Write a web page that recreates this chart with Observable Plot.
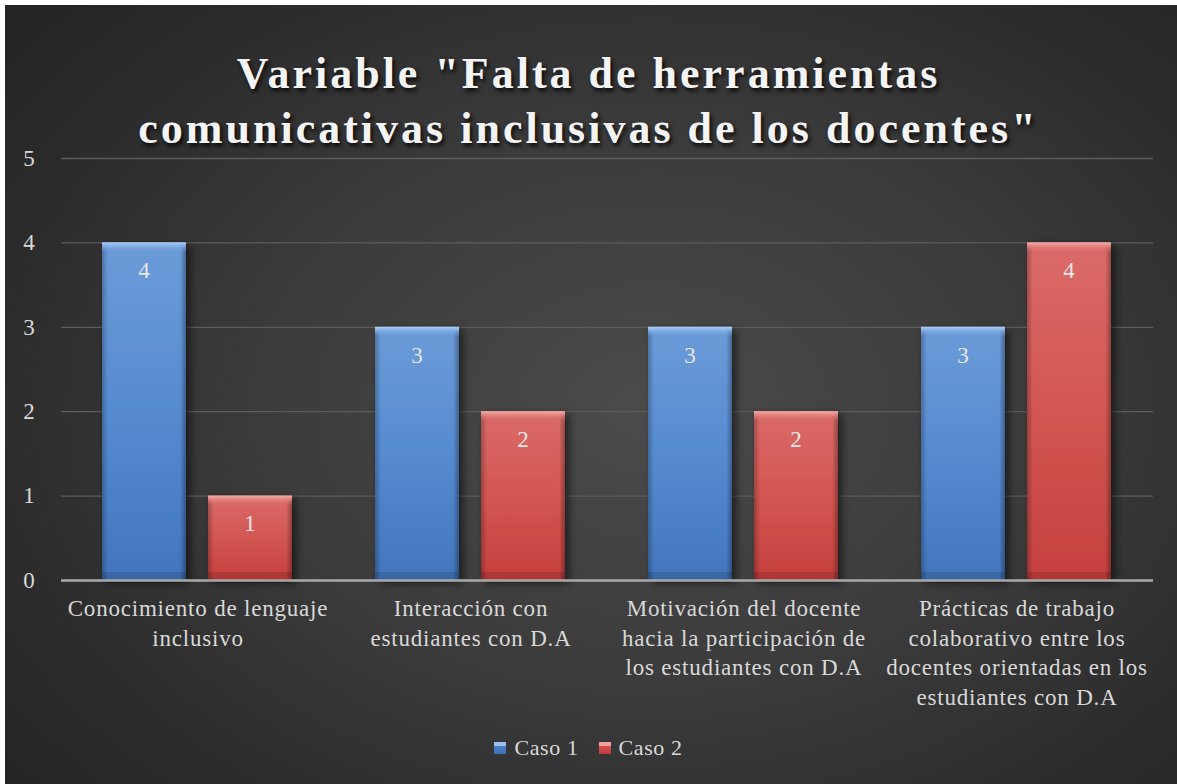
<!DOCTYPE html>
<html><head><meta charset="utf-8">
<script src="https://cdn.jsdelivr.net/npm/d3@7"></script>
<script src="https://cdn.jsdelivr.net/npm/@observablehq/plot@0.6"></script>
<style>
html,body{margin:0;padding:0;background:#fff;width:1177px;height:784px;overflow:hidden;position:relative;}
#bg{position:absolute;left:5px;top:5px;width:1172px;height:779px;
  background:radial-gradient(ellipse 70% 75% at 55% 52%, #4b4b4b 0%, #3c3c3c 45%, #2a2a2a 85%, #252525 100%);}
#title{position:absolute;left:0;top:46px;width:1177px;text-align:center;font-family:"Liberation Serif",serif;font-weight:bold;
  font-size:44px;line-height:55px;letter-spacing:3px;color:#f4f4f4;text-shadow:2px 3px 4px rgba(0,0,0,0.85);}
#chart{position:absolute;left:0;top:148px;}
#legend{position:absolute;left:0;top:735px;width:1177px;display:flex;justify-content:center;align-items:center;
  font-family:"Liberation Serif",serif;font-size:22px;letter-spacing:0.6px;color:#d9d9d9;}
.item{display:flex;align-items:center;margin:0 10px;}
.sw{width:12px;height:12px;margin-right:8px;box-sizing:border-box;}
</style></head>
<body>
<div id="bg"></div>
<div id="title">Variable "Falta de herramientas<br>comunicativas inclusivas de los docentes"</div>
<div id="chart"></div>
<div id="legend"></div>
<script>
const categories = [
  "Conocimiento de lenguaje inclusivo",
  "Interacción con estudiantes con D.A",
  "Motivación del docente hacia la participación de los estudiantes con D.A",
  "Prácticas de trabajo colaborativo entre los docentes orientadas en los estudiantes con D.A"
];
const categoryLabels = [
  "Conocimiento de lenguaje\ninclusivo",
  "Interacción con\nestudiantes con D.A",
  "Motivación del docente\nhacia la participación de\nlos estudiantes con D.A",
  "Prácticas de trabajo\ncolaborativo entre los\ndocentes orientadas en los\nestudiantes con D.A"
];
const series = ["Caso 1", "Caso 2"];
const caso1 = [4, 3, 3, 3];
const caso2 = [1, 2, 2, 4];
const yTicks = [0, 1, 2, 3, 4, 5];
const seriesFill = {"Caso 1": "url(#gBlue)", "Caso 2": "url(#gRed)"};
const seriesTop = {"Caso 1": "url(#gBlueTop)", "Caso 2": "url(#gRedTop)"};

const data = [];
categories.forEach((c, i) => {
  data.push({cat: c, serie: "Caso 1", value: caso1[i]});
  data.push({cat: c, serie: "Caso 2", value: caso2[i]});
});
const d1 = data.filter(d => d.serie === "Caso 1");
const d2 = data.filter(d => d.serie === "Caso 2");

const FONT = "Liberation Serif";
const plot = Plot.plot({
  width: 1177, height: 562,
  marginLeft: 60, marginRight: 24, marginTop: 10, marginBottom: 130,
  style: {background: "transparent", fontFamily: FONT, fontSize: "23px", letterSpacing: "0.8px", color: "#d9d9d9", overflow: "visible"},
  fx: {domain: categories, padding: 0, label: null},
  x: {domain: series, paddingInner: 0.2075, paddingOuter: 0.39, axis: null},
  y: {domain: [0, 5], label: null},
  marks: [
    Plot.gridY(yTicks, {stroke: "#5c5c5c", strokeOpacity: 1, strokeWidth: 1.3}),
    Plot.axisY(yTicks, {tickSize: 0, tickPadding: 26, label: null, fontSize: 23, fill: "#d9d9d9", tickFormat: d => String(d)}),
    Plot.axisFx({anchor: "bottom", tickSize: 0, tickPadding: 15, label: null, fontSize: 23, lineHeight: 1.28, fill: "#d9d9d9",
      tickFormat: c => categoryLabels[categories.indexOf(c)]}),
    Plot.barY(d1, {fx: "cat", x: "serie", y1: 0, y2: "value", fill: seriesFill["Caso 1"], ariaDescription: "mainbars"}),
    Plot.barY(d2, {fx: "cat", x: "serie", y1: 0, y2: "value", fill: seriesFill["Caso 2"], ariaDescription: "mainbars"}),
    Plot.barY(data, {fx: "cat", x: "serie", y1: 0, y2: "value", fill: "url(#gEdge)"}),
    Plot.barY(d1, {fx: "cat", x: "serie", y1: "value", y2: "value", insetBottom: -10, fill: seriesTop["Caso 1"]}),
    Plot.barY(d2, {fx: "cat", x: "serie", y1: "value", y2: "value", insetBottom: -10, fill: seriesTop["Caso 2"]}),
    Plot.barY(data, {fx: "cat", x: "serie", y1: 0, y2: 0, insetTop: -8, fill: "rgba(0,0,0,0.12)"}),
    Plot.ruleY([0], {stroke: "#a9a9a9", strokeWidth: 2.5}),
    Plot.text(data, {fx: "cat", x: "serie", y: "value", text: d => String(d.value), dy: 28, fill: "#e6e6e6", fontSize: 23})
  ]
});
const svg = plot.tagName.toLowerCase() === "svg" ? plot : plot.querySelector("svg");
const defs = d3.select(svg).insert("defs", ":first-child");
function vgrad(id, stops, horiz) {
  const g = defs.append("linearGradient").attr("id", id)
    .attr("x1", 0).attr("y1", 0).attr("x2", horiz ? 1 : 0).attr("y2", horiz ? 0 : 1);
  stops.forEach(([o, c]) => g.append("stop").attr("offset", o).attr("stop-color", c));
}
vgrad("gBlue", [[0, "#6b9bd8"], [0.5, "#568bd0"], [1, "#4275bd"]]);
vgrad("gRed", [[0, "#da6b69"], [0.5, "#d35652"], [1, "#c5403e"]]);
vgrad("gBlueTop", [[0, "#b3d0f4"], [0.2, "#93bbec"], [1, "rgba(107,155,216,0)"]]);
vgrad("gRedTop", [[0, "#f4b0ad"], [0.2, "#ea9591"], [1, "rgba(218,107,105,0)"]]);
vgrad("gEdge", [[0, "rgba(0,0,0,0.25)"], [0.07, "rgba(0,0,0,0)"], [0.93, "rgba(0,0,0,0)"], [1, "rgba(0,0,0,0.32)"]], true);
const f = defs.append("filter").attr("id", "shadow").attr("x", "-20%").attr("y", "-20%").attr("width", "150%").attr("height", "140%");
f.append("feDropShadow").attr("dx", 4).attr("dy", 3).attr("stdDeviation", 4).attr("flood-color", "#000").attr("flood-opacity", 0.55);
d3.select(svg).selectAll('g[aria-description="mainbars"] rect').attr("filter", "url(#shadow)");
document.getElementById("chart").appendChild(plot);

const legend = d3.select("#legend");
const swatchBg = {
  "Caso 1": "linear-gradient(to bottom, #9cc0ee 0%, #9cc0ee 30%, #4a7fc6 31%, #3b6fb5 100%)",
  "Caso 2": "linear-gradient(to bottom, #f0a09d 0%, #f0a09d 30%, #d4504d 31%, #bf3b39 100%)"
};
series.forEach(s => {
  const it = legend.append("div").attr("class", "item");
  it.append("div").attr("class", "sw").style("background", swatchBg[s]);
  it.append("span").text(s);
});
</script>
</body></html>
